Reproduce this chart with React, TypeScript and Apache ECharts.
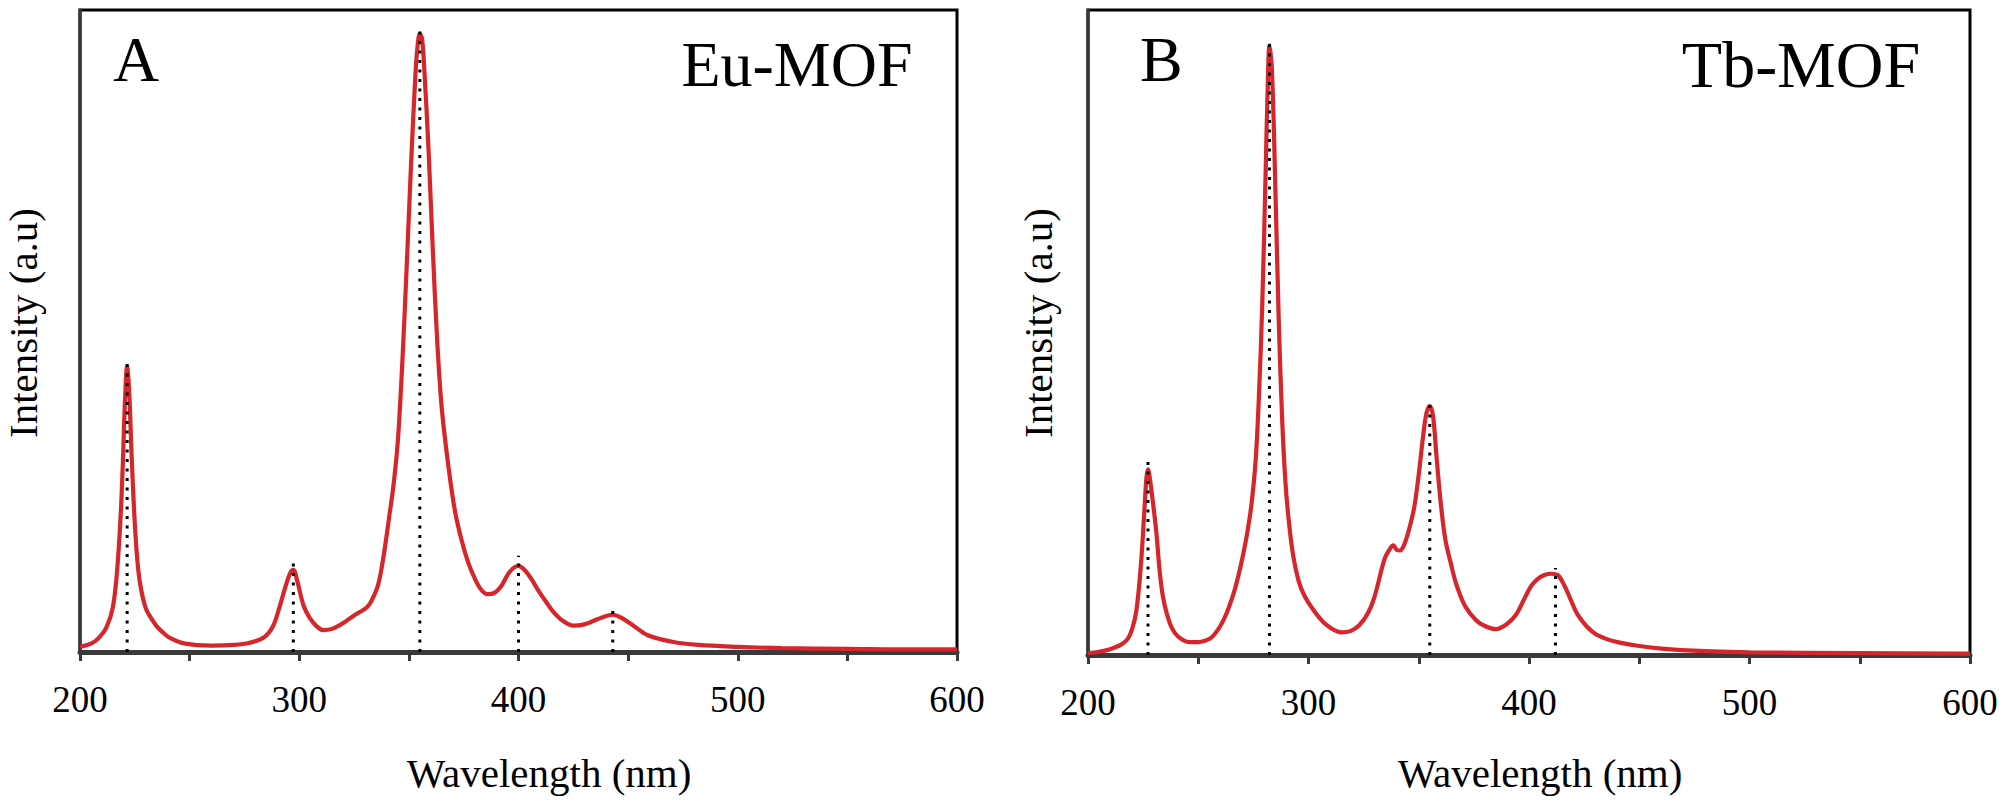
import React, { useEffect, useRef } from "react";
import * as echarts from "echarts";

// ---- Data (intensity as fraction of the plot height) ----
const EU_WAVELENGTH = [
  200, 205, 208, 212, 215, 217, 218.5, 219.5, 220.5, 221.5, 222.5, 223.5, 225, 226.5, 228, 230, 232, 235, 238, 241,
  248, 260, 270, 277, 284, 288, 291, 294, 296, 297.3, 299, 302, 305, 308, 311, 315, 320, 325, 328, 331, 333, 336,
  338.5, 341, 343, 345, 347, 349, 351, 353, 354, 355, 356, 357, 359, 361, 363, 365, 368, 371, 374, 377, 380, 383,
  386, 389, 392, 396, 400, 403, 406, 409, 413, 416, 420, 425, 430, 436, 440, 443, 447, 452, 459, 470, 482, 500,
  520, 550, 580, 600,
];
const EU_INTENSITY = [
  0.008, 0.013, 0.02, 0.038, 0.07, 0.13, 0.21, 0.29, 0.39, 0.445, 0.4, 0.31, 0.2, 0.13, 0.095, 0.068, 0.055, 0.04,
  0.03, 0.022, 0.013, 0.01, 0.011, 0.014, 0.023, 0.04, 0.07, 0.105, 0.124, 0.128, 0.112, 0.072, 0.052, 0.04, 0.034,
  0.036, 0.045, 0.057, 0.063, 0.07, 0.08, 0.105, 0.15, 0.21, 0.26, 0.33, 0.45, 0.6, 0.76, 0.9, 0.945, 0.963, 0.955,
  0.91, 0.78, 0.62, 0.48, 0.38, 0.29, 0.22, 0.175, 0.14, 0.115, 0.097, 0.09, 0.092, 0.102, 0.125, 0.134, 0.127,
  0.113, 0.096, 0.076, 0.062, 0.049, 0.041, 0.043, 0.051, 0.056, 0.058, 0.053, 0.042, 0.026, 0.016, 0.011, 0.008,
  0.006, 0.005, 0.004, 0.004,
];
const EU_PEAKS = [221.5, 297.3, 355, 400, 443];
const EU_PEAK_TOPS = [0.453, 0.143, 0.972, 0.15, 0.07];

const TB_WAVELENGTH = [
  200, 205, 210, 215, 218, 220, 222, 224, 225.5, 226.5, 227.2, 228, 229.5, 231, 232.5, 234, 235.6, 238, 241, 246,
  250, 253, 256, 260, 263, 266, 268, 270, 272, 274, 276, 277.5, 279, 280.5, 281.5, 282.3, 283.5, 285, 286.5, 288,
  289.5, 291, 293, 295.5, 298, 302, 308, 315, 319, 323, 327, 330, 334.5, 337, 338.5, 340, 341.5, 343.5, 346, 348,
  350, 352, 353.5, 355, 356.5, 358, 360, 362, 364.4, 367, 371, 376, 380, 385, 390, 394, 398, 401, 404, 407, 410,
  413, 416, 419, 422, 426, 430, 435, 440, 450, 460, 480, 500, 550, 600,
];
const TB_INTENSITY = [
  0.003, 0.005, 0.009, 0.016, 0.025, 0.04, 0.07, 0.14, 0.22, 0.275, 0.288, 0.275, 0.235, 0.19, 0.13, 0.09, 0.066,
  0.042, 0.028, 0.02, 0.02, 0.022, 0.027, 0.045, 0.066, 0.095, 0.12, 0.15, 0.185, 0.23, 0.3, 0.4, 0.54, 0.74,
  0.88, 0.945, 0.9, 0.72, 0.52, 0.37, 0.27, 0.21, 0.155, 0.115, 0.093, 0.071, 0.047, 0.035, 0.037, 0.046, 0.065,
  0.091, 0.149, 0.165, 0.17, 0.163, 0.162, 0.172, 0.2, 0.23, 0.28, 0.34, 0.375, 0.386, 0.37, 0.31, 0.235, 0.18,
  0.144, 0.11, 0.076, 0.054, 0.045, 0.04, 0.048, 0.062, 0.088, 0.107, 0.118, 0.124, 0.126, 0.124, 0.108, 0.085,
  0.063, 0.045, 0.033, 0.025, 0.02, 0.014, 0.01, 0.006, 0.004, 0.003, 0.002,
];
const TB_PEAKS = [227.2, 282.3, 355, 412];
const TB_PEAK_TOPS = [0.303, 0.955, 0.396, 0.135];

const X_MIN = 200;
const X_MAX = 600;
const X_TICK_STEP = 50;
const X_LABEL_STEP = 100;

const PANEL_LETTERS = ["A", "B"];
const PANEL_NAMES = ["Eu-MOF", "Tb-MOF"];
const X_TITLE = "Wavelength (nm)";
const Y_TITLE = "Intensity (a.u)";

const SERIF = "'Liberation Serif', 'Times New Roman', serif";
const RED = "#d7262b";

export default function App() {
  const ref = useRef<HTMLDivElement>(null);

  useEffect(() => {
    if (!ref.current) return;
    const chart = echarts.init(ref.current, undefined, { renderer: "svg" });

    const grids = [
      { left: 80, top: 10, width: 877, height: 642 },
      { left: 1088, top: 10, width: 882, height: 645 },
    ];

    const xAxis = grids.map((_, i) => ({
      type: "value",
      gridIndex: i,
      min: X_MIN,
      max: X_MAX,
      interval: X_TICK_STEP,
      axisLine: { show: true, lineStyle: { color: "#3a3a3a", width: 5 } },
      axisTick: { show: true, inside: false, length: 9, lineStyle: { color: "#3a3a3a", width: 3 } },
      axisLabel: {
        show: true,
        margin: 29,
        fontFamily: SERIF,
        fontSize: 37,
        color: "#000",
        lineHeight: 37,
        formatter: (v: number) => (v % X_LABEL_STEP === 0 ? String(v) : ""),
      },
      splitLine: { show: false },
    }));

    const yAxis = grids.map((_, i) => ({
      type: "value",
      gridIndex: i,
      min: 0,
      max: 1,
      axisLine: { show: true, lineStyle: { color: "#3a3a3a", width: 3.5 } },
      axisTick: { show: false },
      axisLabel: { show: false },
      splitLine: { show: false },
    }));

    const curve = (xs: number[], ys: number[], idx: number) => ({
      type: "line",
      xAxisIndex: idx,
      yAxisIndex: idx,
      data: xs.map((x, k) => [x, ys[k]]),
      smooth: 0.35,
      symbol: "none",
      lineStyle: { color: RED, width: 4.2 },
      z: 3,
    });

    const dotted = (peaks: number[], tops: number[], idx: number) =>
      peaks.map((p, k) => ({
        type: "line",
        xAxisIndex: idx,
        yAxisIndex: idx,
        data: [
          [p, 0],
          [p, tops[k]],
        ],
        symbol: "none",
        lineStyle: { color: "#000", width: 3, type: [3, 6.5], cap: "butt" },
        z: 4,
      }));

    const texts: any[] = [];
    const letterX = [113, 1140];
    const nameX = [797, 1801];
    const nameSize = [64, 66];
    const xTitleX = [549, 1540];
    const yTitleX = [23, 1038];
    for (let i = 0; i < 2; i++) {
      texts.push({
        type: "text",
        x: letterX[i],
        y: 59,
        style: { text: PANEL_LETTERS[i], font: `64px ${SERIF}`, fill: "#000", align: "left", verticalAlign: "middle" },
      });
      texts.push({
        type: "text",
        x: nameX[i],
        y: 64,
        style: {
          text: PANEL_NAMES[i],
          font: `${nameSize[i]}px ${SERIF}`,
          fill: "#000",
          align: "center",
          verticalAlign: "middle",
        },
      });
      texts.push({
        type: "text",
        x: xTitleX[i],
        y: 773,
        style: { text: X_TITLE, font: `41px ${SERIF}`, fill: "#000", align: "center", verticalAlign: "middle" },
      });
      texts.push({
        type: "text",
        x: yTitleX[i],
        y: 323,
        rotation: Math.PI / 2,
        style: { text: Y_TITLE, font: `41px ${SERIF}`, fill: "#000", align: "center", verticalAlign: "middle" },
      });
    }

    chart.setOption({
      animation: false,
      backgroundColor: "#fff",
      grid: grids.map((g) => ({ ...g, show: true, borderColor: "#000", borderWidth: 3, backgroundColor: "transparent" })),
      xAxis,
      yAxis,
      series: [
        curve(EU_WAVELENGTH, EU_INTENSITY, 0),
        curve(TB_WAVELENGTH, TB_INTENSITY, 1),
        ...dotted(EU_PEAKS, EU_PEAK_TOPS, 0),
        ...dotted(TB_PEAKS, TB_PEAK_TOPS, 1),
      ],
      graphic: texts,
    });

    return () => chart.dispose();
  }, []);

  return <div ref={ref} style={{ position: "absolute", left: 0, top: 0, width: 2004, height: 803 }} />;
}
